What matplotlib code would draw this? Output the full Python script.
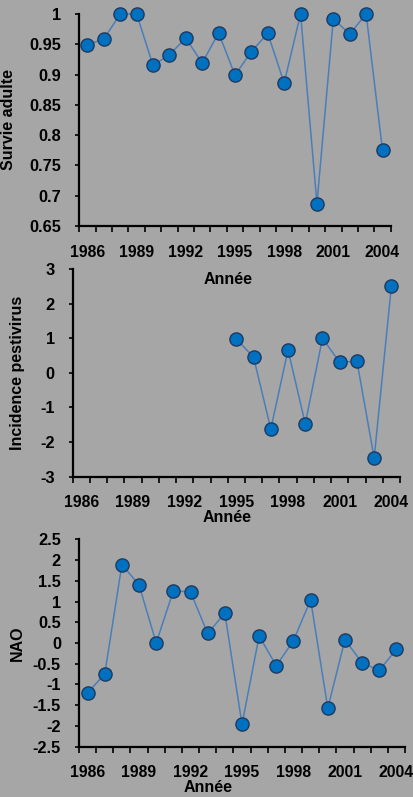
import matplotlib
matplotlib.use("Agg")
import matplotlib.pyplot as plt
import numpy as np

plt.rcParams['font.family'] = ['Liberation Sans', 'DejaVu Sans']
plt.rcParams['font.weight'] = 'bold'

years = list(range(1986, 2005))
year_labels = ["1986", "1989", "1992", "1995", "1998", "2001", "2004"]

survie = [0.949, 0.959, 1.0, 1.0, 0.915, 0.933, 0.960, 0.919, 0.969, 0.899,
          0.938, 0.968, 0.886, 1.0, 0.687, 0.992, 0.967, 1.0, 0.775]

pesti_years = list(range(1995, 2005))
pesti = [0.98, 0.45, -1.62, 0.66, -1.47, 1.0, 0.30, 0.34, -2.46, 2.51]

nao = [-1.20, -0.75, 1.89, 1.40, 0.0, 1.26, 1.23, 0.23, 0.72, -1.96,
       0.17, -0.55, 0.06, 1.04, -1.57, 0.08, -0.48, -0.66, -0.15]

survie_ticks = [0.65, 0.7, 0.75, 0.8, 0.85, 0.9, 0.95, 1.0]
pesti_ticks = [-3, -2, -1, 0, 1, 2, 3]
nao_ticks = [-2.5, -2, -1.5, -1, -0.5, 0, 0.5, 1, 1.5, 2, 2.5]

BG = '#A6A6A6'
LINE = '#4A7EBB'
FACE = '#0070C0'
EDGE = '#1F3A5F'

W, H = 414, 797
fig = plt.figure(figsize=(W / 100, H / 100), dpi=100, facecolor=BG)


def rect(l, r, t, b):
    return [l / W, (H - b) / H, (r - l) / W, (b - t) / H]


def fmt(v):
    return '%g' % v


def style(ax, box, yticks, ylabel, ylabel_px):
    l, r, t, b = box
    ax.set_facecolor('none')
    for s in ['top', 'right']:
        ax.spines[s].set_visible(False)
    for s in ['left', 'bottom']:
        ax.spines[s].set_linewidth(1.6)
        ax.spines[s].set_color('black')
    ax.set_xlim(1985.5, 2004.5)
    ax.set_xticks(np.arange(1985.5, 2005.0, 1.0))
    ax.set_xticklabels([])
    ax.tick_params(axis='x', which='major', direction='out', length=4, width=1.2)
    ax.set_xticks([int(y) for y in year_labels], minor=True)
    ax.set_xticklabels(year_labels, minor=True, fontsize=11.3, fontweight='bold')
    ax.tick_params(axis='x', which='minor', length=0, pad=13.5)
    ax.set_ylim(yticks[0], yticks[-1])
    ax.set_yticks(yticks)
    ax.set_yticklabels([fmt(v) for v in yticks], fontsize=11.8, fontweight='bold')
    ax.tick_params(axis='y', direction='out', length=3, width=1.2, pad=10)
    ax.set_ylabel(ylabel, fontsize=11.5, fontweight='bold')
    ax.yaxis.set_label_coords((ylabel_px - l) / (r - l), 0.5)


def plot(ax, x, y):
    ax.plot(x, y, color=LINE, lw=1.1, marker='o', ms=9.5, mfc=FACE, mec=EDGE,
            mew=1.0, clip_on=False, zorder=3)


box1 = (79.3, 390.7, 14, 226)
ax1 = fig.add_axes(rect(*box1))
plot(ax1, years, survie)
style(ax1, box1, survie_ticks, 'Survie adulte', 16)

box2 = (72.7, 400, 269, 476.7)
ax2 = fig.add_axes(rect(*box2))
plot(ax2, pesti_years, pesti)
style(ax2, box2, pesti_ticks, 'Incidence pestivirus', 25)

box3 = (79, 405, 539.3, 746.7)
ax3 = fig.add_axes(rect(*box3))
plot(ax3, years, nao)
style(ax3, box3, nao_ticks, 'NAO', 25)

for xc, yc in [(228, 279), (227, 518), (208, 788)]:
    fig.text(xc / W, 1 - yc / H, 'Année', fontsize=11.5, fontweight='bold',
             ha='center', va='center')

fig.savefig('out.png', dpi=100, facecolor=BG)
